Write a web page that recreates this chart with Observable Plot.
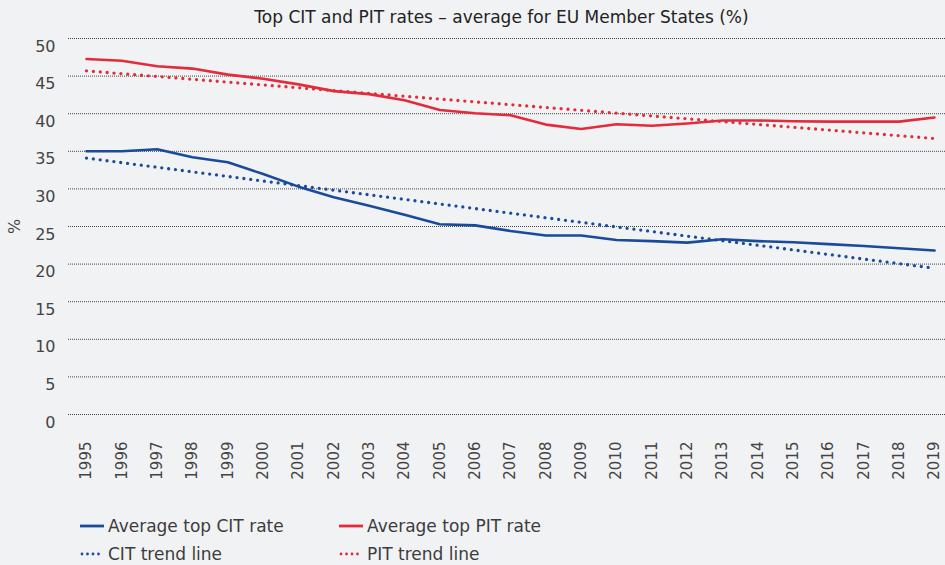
<!DOCTYPE html>
<html><head><meta charset="utf-8">
<script src="https://cdn.jsdelivr.net/npm/d3@7"></script>
<script src="https://cdn.jsdelivr.net/npm/@observablehq/plot@0.6"></script>
<style>
html,body{margin:0;padding:0;background:#f1f2f4;}
#wrap{position:relative;width:945px;height:565px;background:#f1f2f4;font-family:"DejaVu Sans",sans-serif;color:#3c3c3c;overflow:hidden;}
#title{position:absolute;left:0;top:6px;width:1003px;text-align:center;font-size:17px;line-height:22px;color:#222;}
#chart{position:absolute;left:0;top:0;}
.leg{position:absolute;display:flex;align-items:center;font-size:17px;line-height:20px;color:#3c3c3c;white-space:nowrap;}
.leg svg{margin-right:4px;}
</style>
</head><body>
<div id="wrap">
  <div id="chart"></div>
  <div id="title">Top CIT and PIT rates – average for EU Member States (%)</div>
  <div id="legend"></div>
</div>
<script>
const years = [1995,1996,1997,1998,1999,2000,2001,2002,2003,2004,2005,2006,2007,2008,2009,2010,2011,2012,2013,2014,2015,2016,2017,2018,2019];
const citRate = [35.0,35.0,35.27,34.2,33.55,31.97,30.3,28.9,27.75,26.55,25.3,25.15,24.4,23.8,23.8,23.2,23.05,22.85,23.3,23.05,22.9,22.65,22.4,22.1,21.8];
const pitRate = [47.27,47.05,46.3,46.0,45.2,44.65,43.9,43.0,42.6,41.8,40.5,40.05,39.8,38.55,37.97,38.6,38.4,38.7,39.1,39.1,39.0,38.95,38.95,38.95,39.5];
const trendYears = [1995, 2019];
const citTrend = [34.1, 19.45];
const pitTrend = [45.7, 36.7];
const yTicks = [0,5,10,15,20,25,30,35,40,45,50];
const seriesNames = ["Average top CIT rate","Average top PIT rate","CIT trend line","PIT trend line"];

const BLUE = "#1a4a9a", RED = "#e32b3b";
const toRows = (xs, vs) => xs.map((x, i) => ({year: x, value: vs[i]}));
const dotted = {strokeDasharray: "0 6.9", strokeLinecap: "round", strokeWidth: 3.3};

const chart = Plot.plot({
  width: 945,
  height: 490,
  marginTop: 38,
  marginBottom: 76,
  marginLeft: 68,
  marginRight: 0,
  style: {background: "transparent", color: "#444", fontFamily: "DejaVu Sans, sans-serif"},
  x: {type: "linear", domain: [1995, 2019], insetLeft: 18, insetRight: 11},
  y: {domain: [0, 50]},
  marks: [
    Plot.gridY(yTicks, {stroke: "#333", strokeOpacity: 0.9, strokeDasharray: "1 1", strokeWidth: 1}),
    Plot.axisY(yTicks, {tickSize: 0, tickPadding: 13, dy: 8, fontSize: 16, label: "%", labelAnchor: "center", labelArrow: "none", labelOffset: 60}),
    Plot.axisX(years, {tickFormat: d => String(d), tickRotate: -90, tickSize: 0, tickPadding: 27, fontSize: 15, label: null}),
    Plot.line(toRows(trendYears, citTrend), {x: "year", y: "value", stroke: BLUE, ...dotted}),
    Plot.line(toRows(trendYears, pitTrend), {x: "year", y: "value", stroke: RED, ...dotted}),
    Plot.line(toRows(years, citRate), {x: "year", y: "value", stroke: BLUE, strokeWidth: 2.6}),
    Plot.line(toRows(years, pitRate), {x: "year", y: "value", stroke: RED, strokeWidth: 2.6})
  ]
});
document.getElementById("chart").appendChild(chart);

const legendItems = [
  {name: seriesNames[0], color: BLUE, dash: null, left: 80, top: 516},
  {name: seriesNames[1], color: RED, dash: null, left: 339, top: 516},
  {name: seriesNames[2], color: BLUE, dash: "0 5.5", left: 80, top: 544},
  {name: seriesNames[3], color: RED, dash: "0 5.5", left: 339, top: 544}
];
const legend = document.getElementById("legend");
for (const it of legendItems) {
  const d = document.createElement("div");
  d.className = "leg";
  d.style.left = it.left + "px";
  d.style.top = it.top + "px";
  const line = it.dash
    ? `<line x1="2" y1="3" x2="24" y2="3" stroke="${it.color}" stroke-width="2.8" stroke-linecap="round" stroke-dasharray="${it.dash}"/>`
    : `<line x1="0" y1="3" x2="24" y2="3" stroke="${it.color}" stroke-width="2.8"/>`;
  d.innerHTML = `<svg width="24" height="6">${line}</svg><span>${it.name}</span>`;
  legend.appendChild(d);
}
</script>
</body></html>
